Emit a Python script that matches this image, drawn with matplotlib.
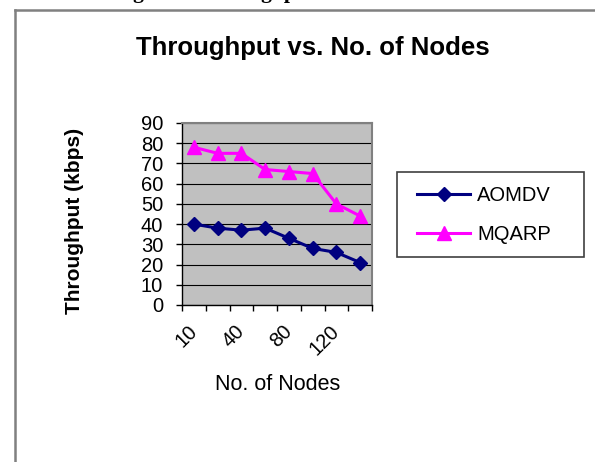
import numpy as np
import matplotlib
matplotlib.use("Agg")
import matplotlib.pyplot as plt
from matplotlib.lines import Line2D
from matplotlib.patches import Rectangle

plt.rcParams['font.family'] = ['Liberation Sans', 'DejaVu Sans']

########
nodes = ["10", "20", "40", "60", "80", "100", "120", "140"]
aomdv = [40, 38, 37, 38, 33, 28, 26, 21]
mqarp = [78, 75, 75, 67, 66, 65, 50, 44]
yticks = list(range(0, 100, 10))

W, H = 595, 462
fig = plt.figure(figsize = (W / 100, H / 100), dpi = 100)

# caption line of the page above the chart, only its descenders show at the top edge
fig.text(114 / W, 1 + 2.5 / H, "Figure 5: Throughput vs. No. of Nodes", family = "Liberation Serif",
         fontweight = "bold", fontsize = 15.5, ha = "left", va = "baseline")

# chart frame (left and top edges visible)
fig.add_artist(Line2D([15 / W, 15 / W], [0, 1 - 10 / H], color = "#808080", linewidth = 1.8))
fig.add_artist(Line2D([15 / W, 1], [1 - 10 / H, 1 - 10 / H], color = "#808080", linewidth = 1.8))

ax = fig.add_axes([182 / W, 1 - 305 / H, 190 / W, 182 / H])
ax.set_facecolor("#C0C0C0")

x = np.arange(len(nodes))
ax.plot(x, aomdv, color = "#000080", linewidth = 2.2, marker = "D", markersize = 7.5, label = "AOMDV", zorder = 3)
ax.plot(x, mqarp, color = "#FF00FF", linewidth = 2.2, marker = "^", markersize = 9.5, label = "MQARP", zorder = 3)

ax.set_xlim(-0.5, len(nodes) - 0.5)
ax.set_ylim(0, 90)
ax.set_yticks(yticks)
ax.yaxis.grid(True, color = "#000000", linewidth = 0.8)
ax.set_axisbelow(True)

ax.set_xticks(x[::2], nodes[::2])
ax.set_xticks(np.arange(len(nodes) + 1) - 0.5, minor = True)
ax.tick_params(axis = "x", which = "major", length = 0, pad = 17, labelsize = 14.5)
ax.tick_params(axis = "x", which = "minor", length = 4.5, width = 1, direction = "out")
ax.tick_params(axis = "y", length = 4.5, width = 1, pad = 9, labelsize = 14.5)
for lbl in ax.get_xticklabels():
    lbl.set_rotation(45)
    lbl.set_ha("right")
    lbl.set_va("center")
    lbl.set_rotation_mode("anchor")

for s in ["top", "right"]:
    ax.spines[s].set_color("#808080")
    ax.spines[s].set_linewidth(1.5)
for s in ["left", "bottom"]:
    ax.spines[s].set_color("#000000")
    ax.spines[s].set_linewidth(1.0)

fig.text(313 / W, 1 - 48 / H, "Throughput vs. No. of Nodes", fontsize = 18.5, fontweight = "bold",
         ha = "center", va = "center")
fig.text(278 / W, 1 - 385 / H, "No. of Nodes", fontsize = 15.5, ha = "center", va = "center")
fig.text(74 / W, 1 - 221 / H, "Throughput (kbps)", fontsize = 15, fontweight = "bold",
         rotation = 90, ha = "center", va = "center")

# legend box (Excel style, wider than its contents)
fig.add_artist(Rectangle((397 / W, 1 - 257 / H), 187 / W, 85 / H, transform = fig.transFigure,
                         facecolor = "white", edgecolor = "#404040", linewidth = 1.2))
leg = fig.legend(loc = "center left", bbox_to_anchor = (417 / W, 1 - 215 / H), fontsize = 14.5,
                 handlelength = 2.65, handletextpad = 0.35, labelspacing = 1.0, borderpad = 0,
                 borderaxespad = 0, frameon = False)

plt.savefig("out.png", dpi = 100)
